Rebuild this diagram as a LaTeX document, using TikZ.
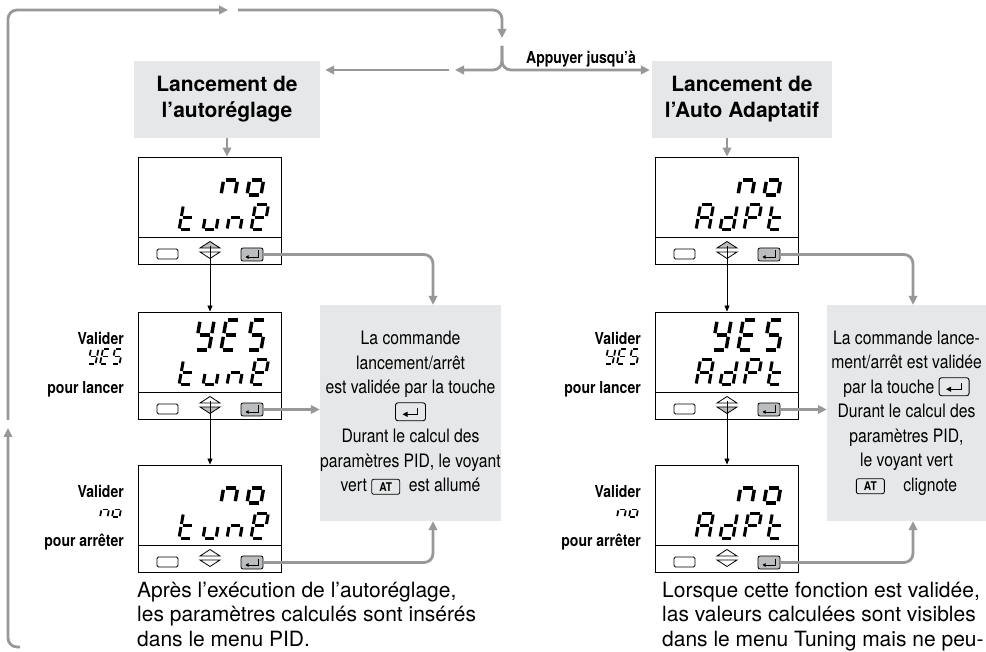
\documentclass[tikz,border=0pt]{standalone}
\usepackage{fontspec}
\setmainfont{TeX Gyre Heros}
\newfontfamily\narrowfont{TeX Gyre Heros}[FakeStretch=0.85]
\usetikzlibrary{arrows.meta,calc}
\definecolor{wiregray}{RGB}{152,152,152}
\definecolor{panelgray}{RGB}{230,231,232}
\definecolor{keygray}{RGB}{188,189,191}

% segments lit for each character of the displays
\def\segY{b,c,d,f,g}
\def\segE{a,d,e,f,g}
\def\segS{a,c,d,f,g}
\def\segn{c,e,g}
\def\sego{c,d,e,g}
\def\segt{d,e,f,g}
\def\segu{c,d,e}
\def\sege{a,b,d,e,f,g}
\def\segA{a,b,c,e,f,g}
\def\segd{b,c,d,e,g}
\def\segP{a,b,e,f,g}

\newcommand\drawsegs[1]{%
  \foreach \s in #1 {%
    \if a\s \draw (0.14,2) -- (0.86,2);\fi
    \if b\s \draw (1,1.88) -- (1,1.12);\fi
    \if c\s \draw (1,0.88) -- (1,0.12);\fi
    \if d\s \draw (0.14,0) -- (0.86,0);\fi
    \if e\s \draw (0,0.88) -- (0,0.12);\fi
    \if f\s \draw (0,1.88) -- (0,1.12);\fi
    \if g\s \draw (0.14,1) -- (0.86,1);\fi}}

% #1 digit style, #2 first cell, #3 pitch, #4 cell/character list
\newcommand\segrow[4]{%
  \foreach \k/\ch in {#4}{%
    \edef\seglist{\ch}%
    \begin{scope}[shift={#2},xshift={\k*#3pt},#1]
      \drawsegs\seglist
    \end{scope}}}

% #1 name, #2 left, #3 top, #4 upper line, #5 lower line, #6/#7 fill of up/down key
\newcommand\lcd[7]{%
  \node[lcd] (#1) at (#2+71.5,#3+53.5) {};
  \draw[line width=0.8pt] (#2,#3+80) -- (#2+143,#3+80);
  \segrow{big digit}{(#2+57,#3+38)}{26}{#4}
  \segrow{mid digit}{(#2+41,#3+73)}{24}{#5}
  \node[sidekey] (#1-side) at (#2+29.5,#3+97) {};
  \draw[line width=0.8pt,fill=#6] (#2+62,#3+91) -- (#2+72,#3+84.5) -- (#2+82,#3+91) -- cycle;
  \draw[line width=0.8pt,fill=#7] (#2+62,#3+95) -- (#2+82,#3+95) -- (#2+72,#3+101.5) -- cycle;
  \coordinate (#1-keys) at (#2+72,#3+89);
  \node[enterkey] (#1-enter) at (#2+114,#3+97.5) {};
  \draw[line width=0.9pt,-{Triangle[length=3pt,width=3.5pt]}]
    (#2+120,#3+93.5) -- (#2+120,#3+100) -- (#2+107.5,#3+100);
}

\newcommand\retkey{\tikz[baseline=-6.5pt,x=1pt,y=1pt,line width=0.9pt]{%
  \draw[rounded corners=2.5pt] (0,-9) rectangle (30,9);
  \draw[-{Triangle[length=5pt,width=5pt]}] (22,4) -- (22,-2.5) -- (7,-2.5);}}
\newcommand\atkey{\tikz[baseline=-5pt,x=1pt,y=1pt,line width=0.8pt]{%
  \draw[rounded corners=2pt] (0,-7.5) rectangle (28,7.5);
  \node[inner sep=0pt,minimum width=0pt,minimum height=0pt,fill=none,draw=none,
    font=\narrowfont\bfseries\fontsize{12}{12}\selectfont] (atlabel) at (14,0) {AT};}}

\tikzset{
  wire/.style={wiregray,line width=2.8pt,rounded corners=9pt,
    -{Triangle[length=9pt,width=8.5pt]}},
  key arrow/.style={black,line width=0.8pt,-{Triangle[length=6pt,width=5pt]}},
  big digit/.style={x={(14pt,0pt)},y={(2.6pt,15pt)},line width=3.4pt},
  mid digit/.style={x={(13pt,0pt)},y={(2.2pt,12.5pt)},line width=3pt},
  tiny digit/.style={x={(7.5pt,0pt)},y={(1.5pt,7.5pt)},line width=1.7pt},
  lcd/.style={draw,fill=white,line width=0.9pt,minimum width=143pt,
    minimum height=107pt,inner sep=0pt},
  sidekey/.style={draw,line width=0.8pt,rounded corners=1.5pt,
    minimum width=21pt,minimum height=10pt,inner sep=0pt},
  enterkey/.style={draw,fill=keygray,line width=0.8pt,rounded corners=2pt,
    minimum width=22pt,minimum height=13pt,inner sep=0pt},
  titlebox/.style={fill=panelgray,minimum height=77pt,inner sep=0pt,align=center,
    font=\fontsize{21}{26}\selectfont\bfseries},
  infobox/.style={fill=panelgray,minimum height=216pt,inner sep=0pt,align=center,
    font=\narrowfont\fontsize{18.5}{24.5}\selectfont},
  label/.style={anchor=east,inner sep=0pt,
    font=\narrowfont\bfseries\fontsize{16.5}{19}\selectfont},
  note/.style={anchor=base west,inner sep=0pt,align=left,
    font=\fontsize{21}{24.5}\selectfont}
}

\begin{document}
\begin{tikzpicture}[x=1pt,y=-1pt]
\useasboundingbox (0,0) rectangle (986,652);
\clip (0,0) rectangle (986,652);

% boxes at the top
\node[titlebox,minimum width=186pt] (tune) at (227,99.5) {Lancement de\\l’autoréglage};
\node[titlebox,minimum width=180pt] (adapt) at (742,99.5) {Lancement de\\l’Auto Adaptatif};
\node[label,anchor=center] (press) at (581,59) {Appuyer jusqu’à};

% return loop and fork
\coordinate (foot) at (20,647);
\coordinate (rise) at (8,428);
\coordinate (rise2) at (8,420);
\coordinate (topA) at (228,10);
\coordinate (topB) at (238,10);
\coordinate (fork) at (502,38);
\coordinate (fork2) at (502,46);
\coordinate (leftA) at (455,70);
\coordinate (leftB) at (449,70);
\draw[wire] (foot) -| (rise);
\draw[wire] (rise2) |- (topA);
\draw[wire] (topB) -| (fork);
\draw[wire] (fork2) |- (leftA);
\draw[wire,shorten >=5pt] (leftB) -- (leftB -| tune.east);
\draw[wire,shorten >=2pt] (fork2) |- (leftA -| adapt.west);

% autotuning column
\lcd{d1}{138}{157}{1/\segn,2/\sego}{0/\segt,1/\segu,2/\segn,3/\sege}{keygray}{white}
\lcd{d2}{138}{312}{0/\segY,1/\segE,2/\segS}{0/\segt,1/\segu,2/\segn,3/\sege}{white}{keygray}
\lcd{d3}{138}{465}{1/\segn,2/\sego}{0/\segt,1/\segu,2/\segn,3/\sege}{white}{white}
\draw[wire] (tune) -- (tune |- d1.north);
\draw[key arrow] (d1-keys) -- (d1-keys |- d2.north);
\draw[key arrow] (d2-keys) -- (d2-keys |- d3.north);

\node[label] (ok2) at (124,338) {Valider};
\segrow{tiny digit}{(88,364)}{12}{0/\segY,1/\segE,2/\segS}
\node[label] (go2) at (124,389) {pour lancer};
\node[label] (ok3) at (124,491) {Valider};
\segrow{tiny digit}{(88,517)}{12}{1/\segn,2/\sego}
\node[label] (stop3) at (124,542) {pour arrêter};

\node[infobox,minimum width=181pt] (tb1) at (410.5,413) {La commande\\
  lancement/arrêt\\ est validée par la touche\\ \retkey\\ Durant le calcul des\\
  paramètres PID, le voyant\\ vert \atkey\ \ est allumé};
\draw[wire] (d1-enter.east) -| ($(tb1.north)+(22.5,0)$);
\draw[wire] (d2-enter.east) -- (d2-enter.east -| tb1.west);
\draw[wire] (d3-enter.east) -| ($(tb1.south)+(22.5,0)$);

\node[note] (after1) at (137,646) {Après l’exécution de l’autoréglage,\\
  les paramètres calculés sont insérés\\ dans le menu PID.};

% auto adaptive column
\lcd{a1}{655}{157}{1/\segn,2/\sego}{0/\segA,1/\segd,2/\segP,3/\segt}{keygray}{white}
\lcd{a2}{655}{312}{0/\segY,1/\segE,2/\segS}{0/\segA,1/\segd,2/\segP,3/\segt}{white}{keygray}
\lcd{a3}{655}{465}{1/\segn,2/\sego}{0/\segA,1/\segd,2/\segP,3/\segt}{white}{white}
\draw[wire] (adapt.south -| a1-keys) -- (a1-keys |- a1.north);
\draw[key arrow] (a1-keys) -- (a1-keys |- a2.north);
\draw[key arrow] (a2-keys) -- (a2-keys |- a3.north);

\node[label] (ok5) at (641,338) {Valider};
\segrow{tiny digit}{(605,364)}{12}{0/\segY,1/\segE,2/\segS}
\node[label] (go5) at (641,389) {pour lancer};
\node[label] (ok6) at (641,491) {Valider};
\segrow{tiny digit}{(605,517)}{12}{1/\segn,2/\sego}
\node[label] (stop6) at (641,542) {pour arrêter};

\node[infobox,minimum width=159pt] (tb2) at (906.5,413) {La commande lance-\\
  ment/arrêt est validée\\ par la touche \retkey\\ Durant le calcul des\\
  paramètres PID,\\ le voyant vert\\ \atkey\quad clignote};
\draw[wire] (a1-enter.east) -| ($(tb2.north)+(6.5,0)$);
\draw[wire] (a2-enter.east) -- (a2-enter.east -| tb2.west);
\draw[wire] (a3-enter.east) -| ($(tb2.south)+(6.5,0)$);

\node[note] (after2) at (662,646) {Lorsque cette fonction est validée,\\
  las valeurs calculées sont visibles\\ dans le menu Tuning mais ne peu-};
\end{tikzpicture}
\end{document}
